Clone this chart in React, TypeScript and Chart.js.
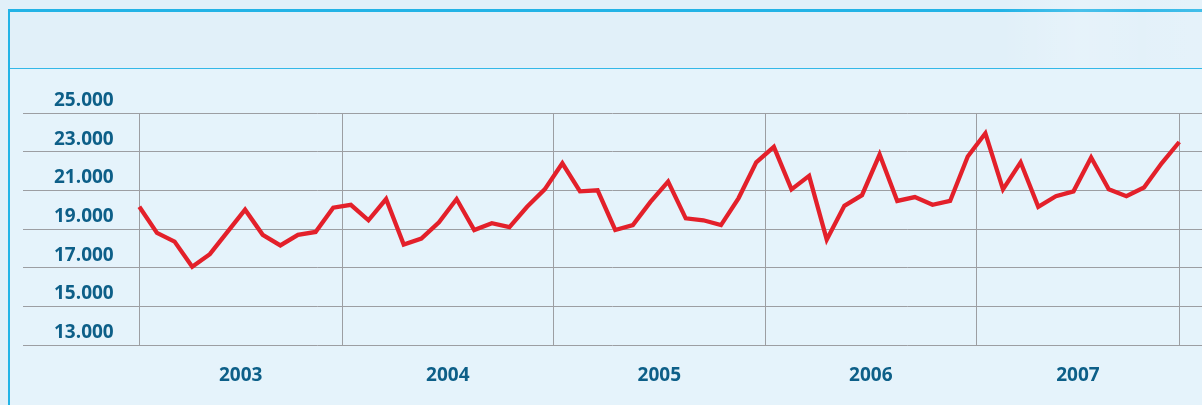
import React, { useEffect, useRef } from 'react';
import { Chart, registerables } from 'chart.js';

Chart.register(...registerables);

// Years shown on the x axis (monthly data, Jan 2003 – Dec 2007)
const YEARS: string[] = ['2003', '2004', '2005', '2006', '2007'];
const MONTHS_PER_YEAR = 12;

// Monthly values
const VALUES: number[] = [
  20150, 18800, 18350, 17050, 17700, 18850, 20000, 18700, 18150, 18700, 18850, 20100,
  20250, 19450, 20550, 18200, 18500, 19350, 20550, 18950, 19300, 19100, 20150, 21050,
  22400, 20950, 21000, 18950, 19200, 20400, 21450, 19550, 19450, 19200, 20600, 22450,
  23250, 21050, 21750, 18450, 20200, 20750, 22850, 20450, 20650, 20250, 20450, 22750,
  23950, 21050, 22450, 20150, 20700, 20950, 22700, 21050, 20700, 21150, 22400, 23500,
];

// Y axis tick values
const Y_TICKS: number[] = [13000, 15000, 17000, 19000, 21000, 23000, 25000];

// x-scale extent (in month-index units), so the plot grid runs past the data on both sides
const X_MIN = -6.6;
const X_MAX = 60.29;

const LABEL_COLOR = '#0d5f88';
const GRID_COLOR = '#9c9ea2';
const LINE_COLOR = '#e3202a';
const FONT = { family: "'Open Sans', 'Noto Sans', sans-serif", size: 19, weight: 'bold' as const };

const fmt = (v: number) => String(v).replace(/\B(?=(\d{3})+(?!\d))/g, '.');

export default function App() {
  const ref = useRef<HTMLCanvasElement>(null);

  useEffect(() => {
    const boundaries = [
      0,
      ...YEARS.slice(0, -1).map((_, i) => (i + 1) * MONTHS_PER_YEAR - 0.5),
      VALUES.length - 1,
    ];
    const centers = YEARS.map((_, i) => (boundaries[i] + boundaries[i + 1]) / 2);
    const labelAt = new Map<number, string>(centers.map((c, i) => [c, YEARS[i]]));
    const xTicks = [...boundaries, ...centers].sort((a, b) => a - b);

    const chart = new Chart(ref.current!, {
      type: 'line',
      data: {
        datasets: [
          {
            data: VALUES.map((v, i) => ({ x: i, y: v })),
            borderColor: LINE_COLOR,
            borderWidth: 4.3,
            pointRadius: 0,
            tension: 0,
            fill: false,
            borderJoinStyle: 'miter',
          },
        ],
      },
      options: {
        animation: false,
        responsive: false,
        maintainAspectRatio: false,
        layout: { padding: { left: 23, right: 0, top: 113, bottom: 0 } },
        plugins: { legend: { display: false }, tooltip: { enabled: false } },
        scales: {
          x: {
            type: 'linear',
            min: X_MIN,
            max: X_MAX,
            afterBuildTicks: (s: any) => {
              s.ticks = xTicks.map((v) => ({ value: v }));
            },
            afterFit: (s: any) => {
              s.height = 60;
            },
            grid: {
              color: (ctx: any) => (ctx.tick && labelAt.has(ctx.tick.value) ? 'rgba(0,0,0,0)' : GRID_COLOR),
              lineWidth: 1,
              drawTicks: false,
            },
            border: { display: false },
            ticks: {
              autoSkip: false,
              maxRotation: 0,
              padding: 19,
              color: LABEL_COLOR,
              font: FONT,
              callback: (v: any) => labelAt.get(Number(v)) ?? '',
            },
          },
          y: {
            type: 'linear',
            min: Y_TICKS[0],
            max: Y_TICKS[Y_TICKS.length - 1],
            afterBuildTicks: (s: any) => {
              s.ticks = Y_TICKS.map((v) => ({ value: v }));
            },
            afterFit: (s: any) => {
              s.width = 0;
            },
            grid: { color: GRID_COLOR, lineWidth: 1, drawTicks: false },
            border: { display: false },
            ticks: {
              mirror: true,
              crossAlign: 'far',
              padding: 31,
              labelOffset: -12.5,
              color: LABEL_COLOR,
              font: FONT,
              callback: (v: any) => fmt(Number(v)),
            },
          },
        },
      },
    });
    return () => chart.destroy();
  }, []);

  return (
    <div
      style={{
        position: 'fixed',
        left: 0,
        top: 0,
        width: 1202,
        height: 405,
        overflow: 'hidden',
        background: '#e1f0f9',
      }}
    >
      <div
        style={{
          position: 'absolute',
          left: 8,
          top: 9,
          width: 1300,
          height: 500,
          borderLeft: '2px solid #22b3e6',
          borderTop: '3px solid #22b3e6',
          background: '#e5f3fb',
          boxSizing: 'border-box',
        }}
      />
      <div
        style={{
          position: 'absolute',
          left: 10,
          top: 12,
          width: 1192,
          height: 56,
          background: '#e1f0f9',
        }}
      />
      <div
        style={{
          position: 'absolute',
          left: 1000,
          top: 0,
          width: 202,
          height: 68,
          background:
            'linear-gradient(90deg, rgba(255,255,255,0) 0%, rgba(255,255,255,0.18) 40%, rgba(255,255,255,0.08) 70%, rgba(255,255,255,0.15) 100%)',
        }}
      />
      <div
        style={{
          position: 'absolute',
          left: 10,
          top: 68,
          width: 1192,
          height: 1,
          background: '#33b8e8',
        }}
      />
      <canvas ref={ref} width={1202} height={405} style={{ position: 'absolute', left: 0, top: 0 }} />
    </div>
  );
}
